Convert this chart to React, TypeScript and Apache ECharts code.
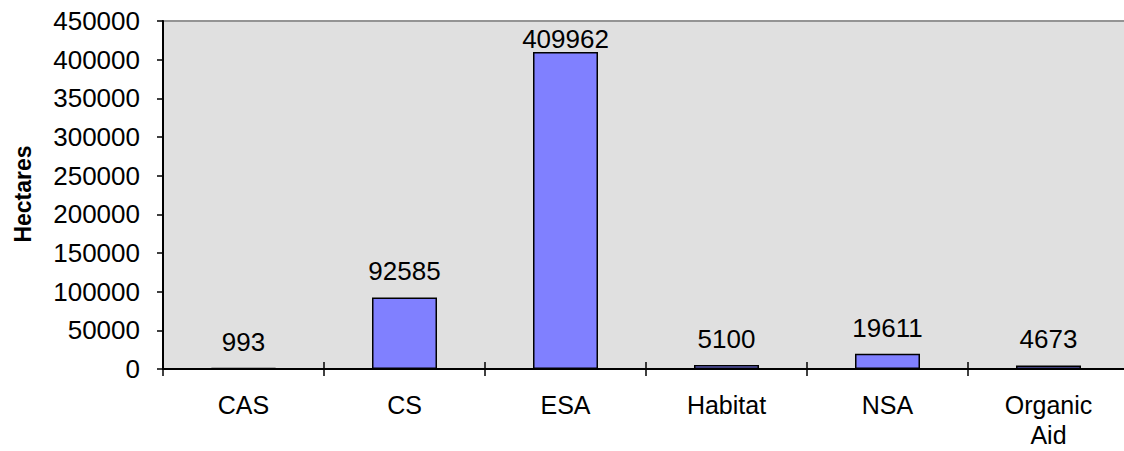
import React, { useEffect, useRef } from "react";
import * as echarts from "echarts";

// Area by scheme, in hectares
const categories = ["CAS", "CS", "ESA", "Habitat", "NSA", "Organic\nAid"];
const hectares = [993, 92585, 409962, 5100, 19611, 4673];
const yTicks = { min: 0, max: 450000, interval: 50000 };

const FONT = "'Liberation Sans', Arial, Helvetica, sans-serif";
const W = 1140;
const H = 451;
const GRID = { left: 163, top: 21, right: 11, bottom: 82 };

export default function App() {
  const ref = useRef<HTMLDivElement>(null);

  useEffect(() => {
    if (!ref.current) return;
    const chart = echarts.init(ref.current, undefined, { renderer: "svg" });

    const plotH = H - GRID.top - GRID.bottom;
    const pxPerUnit = plotH / (yTicks.max - yTicks.min);
    // value labels sit above their bar, but are kept inside the plot area
    const data = hectares.map((v) => {
      const room = (yTicks.max - v) * pxPerUnit;
      return { value: v, label: { distance: Math.min(13, room - 31) } };
    });

    const tickStyle = { color: "#000", width: 1.5 };

    chart.setOption({
      animation: false,
      grid: [
        {
          ...GRID,
          show: true,
          backgroundColor: "#e0e0e0",
          borderColor: "#949494",
          borderWidth: 2,
        },
        { ...GRID, show: false },
      ],
      xAxis: [
        {
          type: "category",
          gridIndex: 0,
          data: categories,
          axisLine: { show: true, lineStyle: { color: "#000", width: 2 } },
          axisTick: { show: true, length: 7, lineStyle: tickStyle },
          axisLabel: {
            color: "#000",
            fontFamily: FONT,
            fontSize: 25,
            lineHeight: 30,
            margin: 21,
            interval: 0,
          },
        },
        {
          type: "category",
          gridIndex: 1,
          data: categories,
          axisLine: { show: false },
          axisTick: { show: true, inside: true, length: 7, lineStyle: tickStyle },
          axisLabel: { show: false },
        },
      ],
      yAxis: [
        {
          type: "value",
          gridIndex: 0,
          min: yTicks.min,
          max: yTicks.max,
          interval: yTicks.interval,
          splitLine: { show: false },
          axisLine: { show: true, lineStyle: { color: "#000", width: 2 } },
          axisTick: { show: true, length: 6, lineStyle: tickStyle },
          axisLabel: {
            color: "#000",
            fontFamily: FONT,
            fontSize: 26,
            margin: 23,
            formatter: (v: number) => String(v),
          },
        },
        { type: "value", gridIndex: 1, show: false, min: yTicks.min, max: yTicks.max },
      ],
      graphic: [
        {
          type: "text",
          x: 23,
          y: 194,
          rotation: Math.PI / 2,
          style: {
            text: "Hectares",
            fontFamily: FONT,
            fontSize: 23,
            fontWeight: "bold",
            fill: "#000",
            align: "center",
            verticalAlign: "middle",
          },
        },
      ],
      series: [
        {
          type: "bar",
          xAxisIndex: 0,
          yAxisIndex: 0,
          data,
          barWidth: 65,
          itemStyle: { color: "#8080ff", borderColor: "#000", borderWidth: 1.5 },
          label: {
            show: true,
            position: "top",
            color: "#000",
            fontFamily: FONT,
            fontSize: 26,
          },
        },
      ],
    });

    return () => chart.dispose();
  }, []);

  return (
    <div
      ref={ref}
      style={{ position: "absolute", left: 0, top: 0, width: W, height: H }}
    />
  );
}
